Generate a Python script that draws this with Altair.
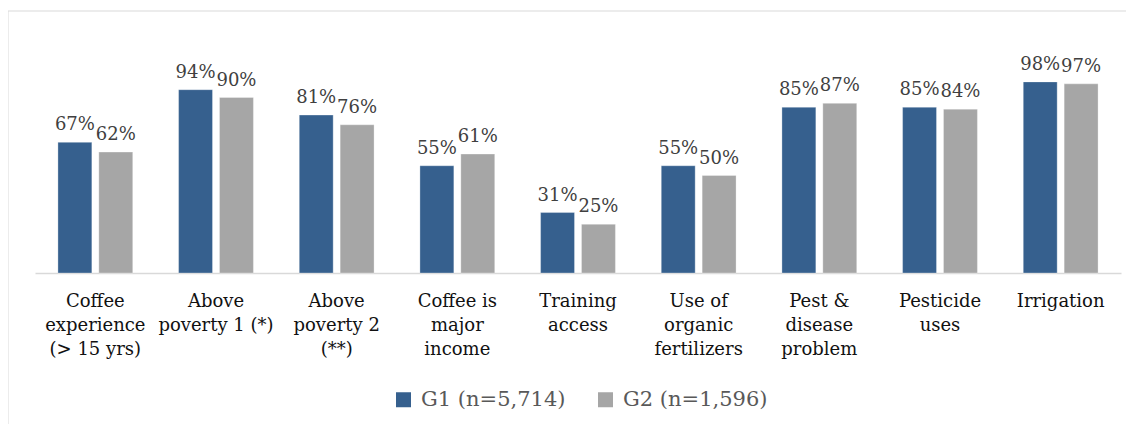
import altair as alt
import pandas as pd

categories = [
    "Coffee|experience|(> 15 yrs)",
    "Above|poverty 1 (*)",
    "Above|poverty 2|(**)",
    "Coffee is|major|income",
    "Training|access",
    "Use of|organic|fertilizers",
    "Pest &|disease|problem",
    "Pesticide|uses",
    "Irrigation",
]
g1_values = [0.67, 0.94, 0.81, 0.55, 0.31, 0.55, 0.85, 0.85, 0.98]
g2_values = [0.62, 0.90, 0.76, 0.61, 0.25, 0.50, 0.87, 0.84, 0.97]
groups = ["G1 (n=5,714)", "G2 (n=1,596)"]
colors = ["#36608e", "#a6a6a6"]

rows = []
for c, a, b in zip(categories, g1_values, g2_values):
    rows.append({"cat": c, "grp": groups[0], "val": a})
    rows.append({"cat": c, "grp": groups[1], "val": b})
df = pd.DataFrame(rows)

FONT = "DejaVu Serif"

base = alt.Chart(df).encode(
    x=alt.X(
        "cat:N",
        sort=categories,
        scale=alt.Scale(paddingInner=0.38, paddingOuter=0.19),
        axis=alt.Axis(
            title=None,
            labelAngle=0,
            labelExpr="split(datum.label, '|')",
            ticks=False,
            domainColor="#d9d9d9",
            domainWidth=1.5,
            labelFont=FONT,
            labelFontSize=18,
            labelColor="#111111",
            labelPadding=19,
            labelLineHeight=24,
        ),
    ),
    xOffset=alt.XOffset(
        "grp:N", sort=groups, scale=alt.Scale(paddingInner=0.171, paddingOuter=0)
    ),
    y=alt.Y("val:Q", scale=alt.Scale(domain=[0, 1.2]), axis=None),
)

bars = base.mark_bar(stroke="#ffffff", strokeWidth=0.6, strokeOpacity=0.5).encode(
    color=alt.Color(
        "grp:N",
        sort=groups,
        scale=alt.Scale(domain=groups, range=colors),
        legend=alt.Legend(
            title=None,
            orient="none",
            legendX=358,
            legendY=350,
            direction="horizontal",
            symbolType="square",
            symbolSize=225,
            symbolStrokeWidth=0,
            labelFont=FONT,
            labelFontSize=21,
            labelColor="#595959",
            labelOffset=7,
            columnPadding=29,
        ),
    )
)

labels = base.mark_text(
    baseline="bottom", dy=-8, font=FONT, fontSize=18, color="#404040"
).encode(text=alt.Text("val:Q", format=".0%"))

frame_df = pd.DataFrame({"k": [0]})
frame_top = alt.Chart(frame_df).mark_rule(color="#d9d9d9", strokeWidth=1).encode(
    x=alt.value(-27), x2=alt.value(1091), y=alt.value(-28)
)
frame_left = alt.Chart(frame_df).mark_rule(color="#d9d9d9", strokeWidth=1).encode(
    x=alt.value(-27), y=alt.value(-28), y2=alt.value(385)
)

chart = (
    alt.layer(frame_top, frame_left, bars, labels)
    .properties(
        width=1086,
        height=234,
        autosize=alt.AutoSizeParams(type="none"),
        padding={"left": 27, "top": 31, "right": 5, "bottom": 151},
    )
    .configure_view(stroke=None)
)

chart.save("out.html", embed_options={"renderer": "svg", "actions": False})
